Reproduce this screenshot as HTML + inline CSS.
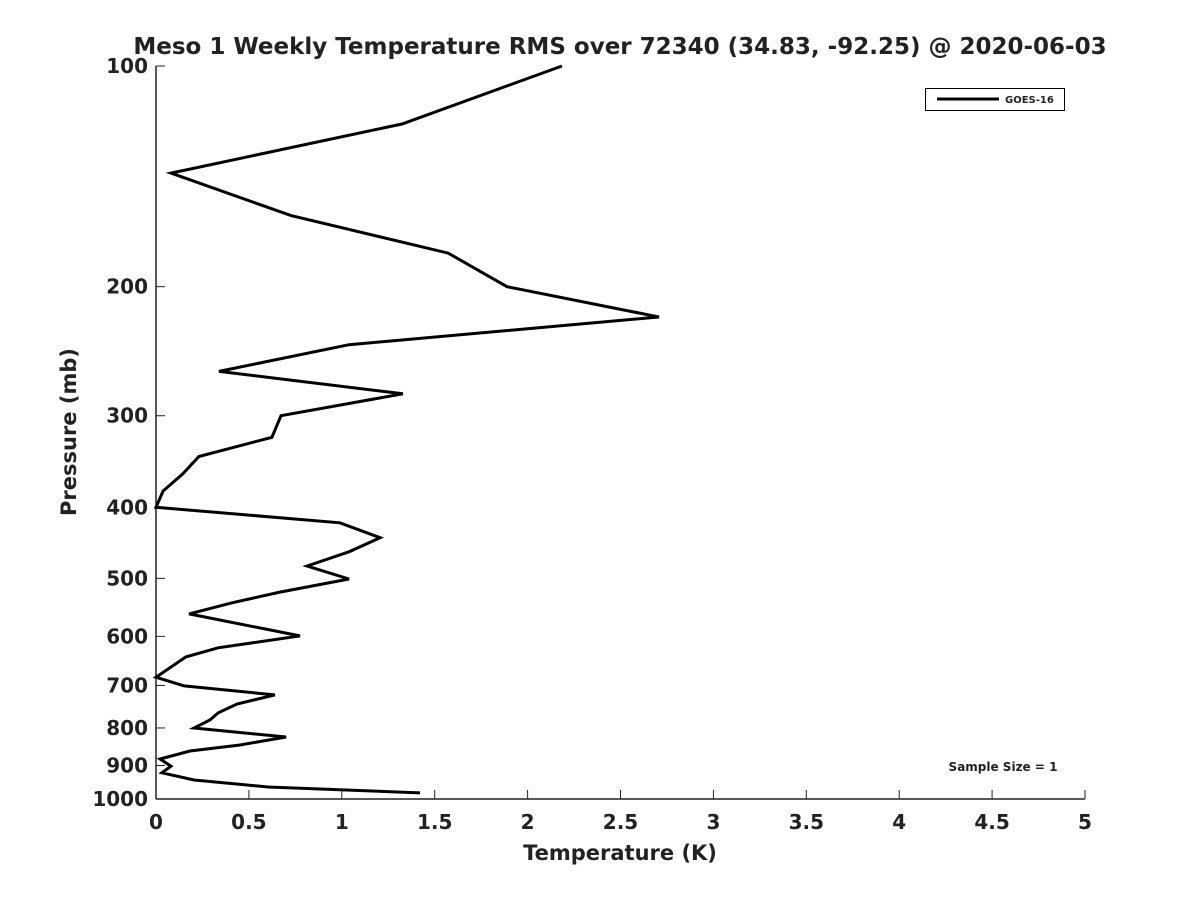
<!DOCTYPE html>
<html><head><meta charset="utf-8"><style>
body{margin:0;background:#fff;}
svg text{font-family:"DejaVu Sans","Liberation Sans",sans-serif;font-weight:bold;fill:#222;}
</style></head><body>
<svg id="chart" width="1200" height="900" viewBox="0 0 1200 900" xmlns="http://www.w3.org/2000/svg">
<text x="620" y="54" text-anchor="middle" font-size="23">Meso 1 Weekly Temperature RMS over 72340 (34.83, -92.25) @ 2020-06-03</text>
<g id="axes"></g>
<text x="620" y="860" text-anchor="middle" font-size="21">Temperature (K)</text>
<text transform="translate(76,432) rotate(-90)" text-anchor="middle" font-size="21">Pressure (mb)</text>
<g>
<rect x="925.5" y="88.5" width="139" height="22" fill="#fff" stroke="#000"/>
<line x1="937" y1="99" x2="999" y2="99" stroke="#000" stroke-width="3"/>
<text x="1005" y="103" font-size="10">GOES-16</text>
</g>
<text x="1003" y="771" text-anchor="middle" font-size="12">Sample Size = 1</text>
</svg>
<script>
const pressures=[100,120,140,160,180,200,220,240,261,280,300,321,341,360,380,400,420,440,460,481,501,522,540,559,599,622,640,682,701,721,742,763,780,800,823,844,860,882,902,921,942,963,981];
const rms=[2.185,1.324,0.081,0.727,1.572,1.889,2.707,1.039,0.339,1.329,0.673,0.624,0.231,0.145,0.038,0,0.99,1.206,1.039,0.813,1.039,0.667,0.409,0.178,0.775,0.334,0.161,0,0.151,0.640,0.436,0.334,0.291,0.205,0.700,0.452,0.183,0.022,0.081,0.032,0.205,0.603,1.421];
const xTicks=[0,0.5,1,1.5,2,2.5,3,3.5,4,4.5,5];
const xTickLabels=["0","0.5","1","1.5","2","2.5","3","3.5","4","4.5","5"];
const yTicks=[100,200,300,400,500,600,700,800,900,1000];
const X0=156,X1=1085,Y0=66,Y1=799;
function sx(v){return X0+(v-0)/(5-0)*(X1-X0);}
function sy(p){return Y0+Math.log10(p/100)*(Y1-Y0);}
const NS="http://www.w3.org/2000/svg";
const svg=document.getElementById('chart');
const g=document.getElementById('axes');
function mk(t,a,parent){const e=document.createElementNS(NS,t);for(const k in a)e.setAttribute(k,a[k]);(parent||g).appendChild(e);return e;}
const la=mk('line',{x1:X0,y1:Y0,x2:X0,y2:Y1,stroke:'#222','stroke-width':1.5});


const lb=mk('line',{x1:X0,y1:Y1,x2:X1,y2:Y1,stroke:'#222','stroke-width':1.5});


xTicks.forEach((v,i)=>{
 const x=sx(v);
 const t=mk('line',{x1:x,y1:Y1,x2:x,y2:Y1-9,stroke:'#222','stroke-width':1});
 
 
 const l=mk('text',{x:x,y:Y1+30,'text-anchor':'middle','font-size':20});
 l.textContent=xTickLabels[i];
 
 
});
yTicks.forEach(p=>{
 const y=sy(p);
 const t=mk('line',{x1:X0,y1:y,x2:X0+9,y2:y,stroke:'#222','stroke-width':1});
 
 
 const l=mk('text',{x:X0-8,y:y+7,'text-anchor':'end','font-size':20});
 l.textContent=String(p);
 
 
});
const pts=pressures.map((p,i)=>sx(rms[i]).toFixed(1)+','+sy(p).toFixed(1)).join(' ');
const line=mk('polyline',{points:pts,fill:'none',stroke:'#000','stroke-width':3,'stroke-linejoin':'miter'});


</script>
</body></html>
